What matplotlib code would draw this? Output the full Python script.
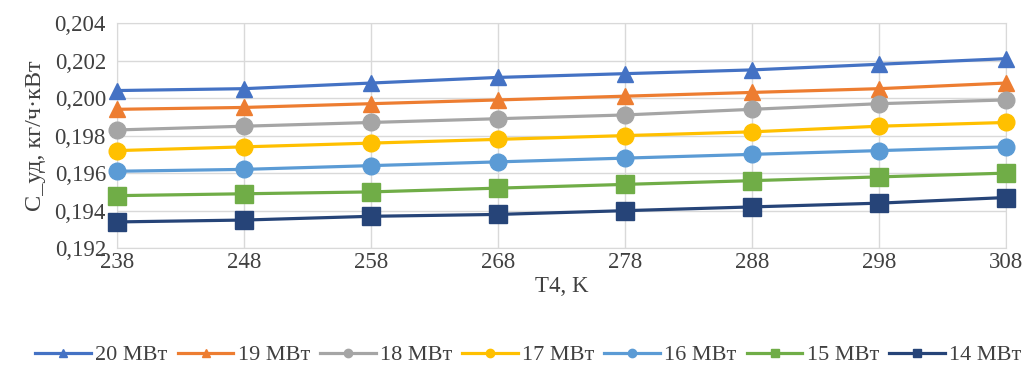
import matplotlib.pyplot as plt
from matplotlib.ticker import FuncFormatter

plt.rcParams['font.family'] = ['Liberation Serif', 'DejaVu Serif']

# температура T4, K
t4 = [238, 248, 258, 268, 278, 288, 298, 308]

# удельный расход топлива для разных мощностей
c_20 = [0.2004, 0.2005, 0.2008, 0.2011, 0.2013, 0.2015, 0.2018, 0.2021]
c_19 = [0.1994, 0.1995, 0.1997, 0.1999, 0.2001, 0.2003, 0.2005, 0.2008]
c_18 = [0.1983, 0.1985, 0.1987, 0.1989, 0.1991, 0.1994, 0.1997, 0.1999]
c_17 = [0.1972, 0.1974, 0.1976, 0.1978, 0.1980, 0.1982, 0.1985, 0.1987]
c_16 = [0.1961, 0.1962, 0.1964, 0.1966, 0.1968, 0.1970, 0.1972, 0.1974]
c_15 = [0.1948, 0.1949, 0.1950, 0.1952, 0.1954, 0.1956, 0.1958, 0.1960]
c_14 = [0.1934, 0.1935, 0.1937, 0.1938, 0.1940, 0.1942, 0.1944, 0.1947]

labels = ['20 МВт', '19 МВт', '18 МВт', '17 МВт', '16 МВт', '15 МВт', '14 МВт']
series = [c_20, c_19, c_18, c_17, c_16, c_15, c_14]
colors = ['#4472C4', '#ED7D31', '#A5A5A5', '#FFC000', '#5B9BD5', '#70AD47', '#264478']
markers = ['^', '^', 'o', 'o', 'o', 's', 's']

fig = plt.figure(figsize=(10.36, 3.65), dpi=100)
ax = fig.add_axes([0.113, 0.32, 0.858, 0.617])

for y, lab, col, mk in zip(series, labels, colors, markers):
    ax.plot(t4, y, color=col, lw=2.3, marker=mk, markersize=12 if mk != 's' else 12.5,
            label=lab, clip_on=False, zorder=3)

ax.set_xlim(238, 308)
ax.set_ylim(0.192, 0.204)
ax.set_xticks(t4)
ax.set_yticks([0.192, 0.194, 0.196, 0.198, 0.200, 0.202, 0.204])
ax.yaxis.set_major_formatter(FuncFormatter(lambda v, p: f'{v:.3f}'.replace('.', ',')))
ax.grid(True, color='#d9d9d9', lw=1)
ax.set_axisbelow(True)
for s in ax.spines.values():
    s.set_color('#d9d9d9')
ax.tick_params(length=0, labelsize=16.5, colors='#404040')
ax.tick_params(axis='x', pad=3)
ax.tick_params(axis='y', pad=8)

ax.set_xlabel('T4, K', fontsize=16.5, color='#404040', labelpad=2)
ax.set_ylabel('C_уд, кг/ч·кВт', fontsize=17.5, color='#404040', labelpad=6)

leg = fig.legend(*ax.get_legend_handles_labels(), loc='center', bbox_to_anchor=(0.51, 0.027),
                 ncol=7, frameon=False, fontsize=16, handlelength=2.5, columnspacing=0.45,
                 handletextpad=0.2, markerscale=0.5)
for t in leg.get_texts():
    t.set_color('#404040')

fig.savefig('out.png', dpi=100)
